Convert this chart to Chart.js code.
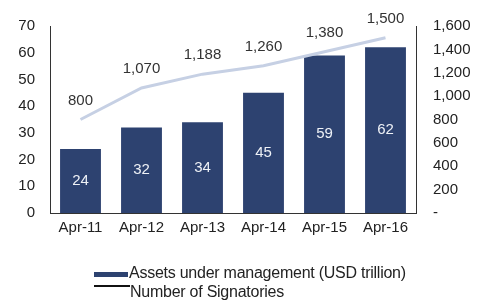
<!DOCTYPE html>
<html>
<head>
<meta charset="utf-8">
<script src="https://cdn.jsdelivr.net/npm/chart.js@4"></script>
<style>
  body { margin: 0; background: #fff; }
  #wrap { position: relative; width: 483px; height: 300px; }
  .leg { position: absolute; font: 16px "Liberation Sans", Arial, sans-serif; color: #222; letter-spacing: -0.25px; white-space: nowrap; line-height: 18px; }
  .mark { position: absolute; }
</style>
</head>
<body>
<div id="wrap">
  <canvas id="chart" width="483" height="300"></canvas>
  <div class="mark" style="left:94px;top:272px;width:34px;height:5px;background:#2d4270"></div>
  <div class="leg" style="left:129px;top:264px">Assets under management (USD trillion)</div>
  <div class="mark" style="left:94px;top:285px;width:36px;height:2px;background:#111"></div>
  <div class="leg" style="left:130px;top:283px">Number of Signatories</div>
</div>
<script>
document.addEventListener('DOMContentLoaded', () => {

    const labels = ['Apr-11', 'Apr-12', 'Apr-13', 'Apr-14', 'Apr-15', 'Apr-16'];
    const assets = [24, 32, 34, 45, 59, 62];
    const signatories = [800, 1070, 1188, 1260, 1380, 1500];

    const font = { family: '"Liberation Sans", Arial, sans-serif', size: 15 };

    // draw the numbers on bars and above the line
    const valueLabels = {
        id: 'valueLabels',
        afterDatasetsDraw(chart) {
            const ctx = chart.ctx;
            ctx.save();
            ctx.font = '15px "Liberation Sans", Arial, sans-serif';
            ctx.textAlign = 'center';
            ctx.textBaseline = 'middle';
            chart.getDatasetMeta(0).data.forEach((bar, i) => {
                ctx.fillStyle = '#eef1f6';
                ctx.fillText(assets[i], bar.x, (bar.y + bar.base) / 2);
            });
            chart.getDatasetMeta(1).data.forEach((pt, i) => {
                ctx.fillStyle = '#333';
                ctx.fillText(signatories[i].toLocaleString('en-US'), pt.x, pt.y - 19);
            });
            ctx.restore();
        }
    };

    new Chart(document.getElementById('chart'), {
        data: {
            labels: labels,
            datasets: [
                { type: 'bar', data: assets, backgroundColor: '#2d4270', yAxisID: 'y', order: 2,
                  categoryPercentage: 1, barPercentage: 0.67 },
                { type: 'line', data: signatories, borderColor: '#c6d0e4', borderWidth: 3,
                  pointRadius: 0, yAxisID: 'y1', order: 1 }
            ]
        },
        options: {
            responsive: false,
            devicePixelRatio: 1,
            animation: false,
            layout: { padding: { top: 23, right: 0, left: 0, bottom: 0 } },
            plugins: { legend: { display: false }, tooltip: { enabled: false } },
            scales: {
                x: {
                    grid: { display: false, drawTicks: false },
                    border: { display: true, color: '#333', width: 1 },
                    ticks: { font: font, color: '#222', padding: 6 },
                    afterFit: s => { s.height = 87; }
                },
                y: {
                    position: 'left', min: 0, max: 70,
                    grid: { display: false, drawTicks: false },
                    border: { display: true, color: '#333', width: 1 },
                    ticks: { stepSize: 10, font: font, color: '#222', padding: 15 },
                    afterFit: s => { s.width = 50; }
                },
                y1: {
                    position: 'right', min: 0, max: 1600,
                    grid: { display: false, drawTicks: false },
                    border: { display: true, color: '#333', width: 1 },
                    ticks: { stepSize: 200, font: font, color: '#222', padding: 17,
                             callback: v => v === 0 ? '-' : v.toLocaleString('en-US') },
                    afterFit: s => { s.width = 67; }
                }
            }
        },
        plugins: [valueLabels]
    });

});
</script>
</body>
</html>
